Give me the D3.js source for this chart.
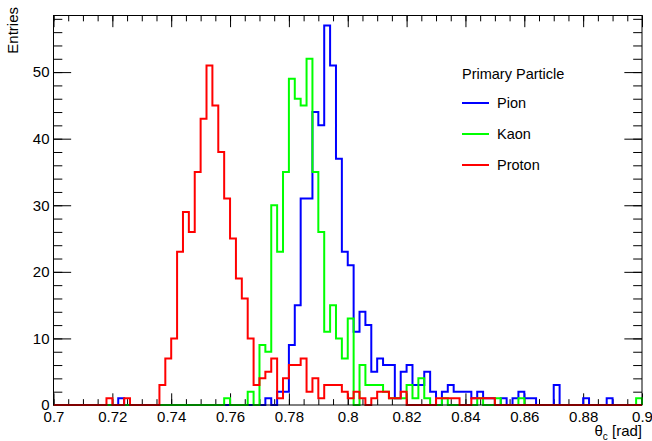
<!DOCTYPE html>
<html>
<head>
<meta charset="utf-8">
<script src="https://cdn.jsdelivr.net/npm/d3@7"></script>
<style>
  body { margin: 0; background: #fff; }
  text { font-family: "Liberation Sans", Arial, Helvetica, sans-serif; }
</style>
</head>
<body>
<div id="chart"></div>
<script>
const width = 652;
const height = 441;
const margin = { top: 15.5, right: 10, bottom: 36, left: 53.5 };

// histogram: 100 bins from 0.7 to 0.9 (bin width 0.002)
const xMin = 0.7;
const xMax = 0.9;
const nBins = 100;

const pion = [
  0, 0, 0, 0, 0, 0, 0, 0, 0, 0,
  0, 1, 0, 0, 0, 0, 0, 0, 0, 0,
  0, 0, 0, 0, 0, 0, 0, 0, 0, 0,
  0, 0, 0, 0, 0, 0, 1, 0, 2, 2,
  9, 15, 31, 31, 44, 42, 57, 51, 37, 23,
  21, 11, 14, 12, 5, 7, 6, 6, 1, 5,
  6, 3, 3, 5, 2, 0, 2, 3, 2, 2,
  2, 1, 2, 1, 1, 0, 1, 0, 1, 2,
  1, 1, 0, 0, 0, 3, 0, 0, 0, 0,
  1, 0, 0, 0, 1, 0, 0, 0, 0, 0
];

const kaon = [
  0, 0, 0, 0, 0, 0, 0, 0, 0, 0,
  0, 0, 0, 0, 0, 0, 0, 0, 0, 0,
  0, 0, 0, 0, 0, 0, 0, 0, 0, 1,
  0, 0, 0, 2, 0, 9, 8, 30, 23, 35,
  49, 46, 45, 52, 35, 26, 11, 15, 10, 7,
  13, 0, 6, 3, 3, 3, 2, 1, 1, 1,
  3, 1, 4, 1, 0, 0, 1, 0, 0, 0,
  0, 0, 1, 0, 0, 1, 0, 0, 0, 1,
  0, 0, 0, 0, 0, 0, 0, 0, 0, 0,
  0, 0, 0, 0, 0, 0, 0, 0, 0, 1
];

const proton = [
  0, 0, 0, 0, 0, 0, 0, 0, 0, 1,
  0, 0, 1, 0, 0, 0, 0, 0, 3, 7,
  10, 23, 29, 26, 35, 43, 51, 45, 38, 31,
  25, 19, 16, 10, 3, 4, 5, 7, 1, 4,
  6, 6, 7, 2, 4, 1, 3, 3, 3, 2,
  1, 2, 1, 0, 1, 2, 2, 1, 1, 2,
  0, 0, 0, 0, 0, 1, 1, 1, 1, 0,
  0, 1, 1, 1, 1, 0, 0, 0, 0, 0,
  0, 0, 0, 0, 0, 0, 0, 0, 0, 0,
  0, 0, 0, 0, 0, 0, 0, 0, 0, 0
];

const seriesNames = ["Pion", "Kaon", "Proton"];
const seriesColors = ["#0000ff", "#00ff00", "#ff0000"];
const seriesValues = [pion, kaon, proton];

const xTicks = [0.7, 0.72, 0.74, 0.76, 0.78, 0.8, 0.82, 0.84, 0.86, 0.88, 0.9];
const xTickLabels = ["0.7", "0.72", "0.74", "0.76", "0.78", "0.8", "0.82", "0.84", "0.86", "0.88", "0.9"];
const yTicks = [0, 10, 20, 30, 40, 50];
const yMax = 58.5;

const svg = d3.select('#chart')
  .append('svg')
  .attr('width', width)
  .attr('height', height)
  .attr('viewBox', [0, 0, width, height]);

svg.append('rect').attr('width', width).attr('height', height).attr('fill', '#fff');

const x = d3.scaleLinear()
  .domain([xMin, xMax])
  .range([margin.left, width - margin.right]);

const y = d3.scaleLinear()
  .domain([0, yMax])
  .range([height - margin.bottom, margin.top]);

const binW = (xMax - xMin) / nBins;
const xMinor = d3.range(0, 41).map(i => xMin + i * 0.005);
const yMinor = d3.range(0, 30).map(i => i * 2);

const plotW = width - margin.left - margin.right;
const plotH = height - margin.top - margin.bottom;
const xMajLen = plotH * 0.03;
const yMajLen = plotW * 0.03;

function styleAxis(g) {
  g.select('.domain').remove();
  g.selectAll('line').attr('stroke', '#000').attr('stroke-width', 1);
  g.selectAll('text').attr('font-size', '15px').attr('fill', '#000')
    .style('font-family', '"Liberation Sans", Arial, sans-serif');
}

// bottom axis
svg.append('g')
  .attr('transform', `translate(0, ${height - margin.bottom})`)
  .call(d3.axisBottom(x).tickValues(xMinor).tickSize(-xMajLen / 2).tickFormat(''))
  .call(styleAxis);
svg.append('g')
  .attr('transform', `translate(0, ${height - margin.bottom})`)
  .call(d3.axisBottom(x).tickValues(xTicks).tickSize(-xMajLen).tickPadding(6.5)
    .tickFormat((d, i) => xTickLabels[i]))
  .call(styleAxis);

// top mirrored ticks
svg.append('g')
  .attr('transform', `translate(0, ${margin.top})`)
  .call(d3.axisTop(x).tickValues(xMinor).tickSize(-xMajLen / 2).tickFormat(''))
  .call(styleAxis);
svg.append('g')
  .attr('transform', `translate(0, ${margin.top})`)
  .call(d3.axisTop(x).tickValues(xTicks).tickSize(-xMajLen).tickFormat(''))
  .call(styleAxis);

// left axis
svg.append('g')
  .attr('transform', `translate(${margin.left}, 0)`)
  .call(d3.axisLeft(y).tickValues(yMinor).tickSize(-yMajLen / 2).tickFormat(''))
  .call(styleAxis);
svg.append('g')
  .attr('transform', `translate(${margin.left}, 0)`)
  .call(d3.axisLeft(y).tickValues(yTicks).tickSize(-yMajLen).tickPadding(4))
  .call(styleAxis);

// right mirrored ticks
svg.append('g')
  .attr('transform', `translate(${width - margin.right}, 0)`)
  .call(d3.axisRight(y).tickValues(yMinor).tickSize(-yMajLen / 2).tickFormat(''))
  .call(styleAxis);
svg.append('g')
  .attr('transform', `translate(${width - margin.right}, 0)`)
  .call(d3.axisRight(y).tickValues(yTicks).tickSize(-yMajLen).tickFormat(''))
  .call(styleAxis);

// histograms
const line = d3.line()
  .x(d => x(d[0]))
  .y(d => y(d[1]))
  .curve(d3.curveStepAfter);

seriesValues.forEach((vals, k) => {
  const pts = [[xMin, 0]];
  vals.forEach((v, i) => pts.push([xMin + i * binW, v]));
  pts.push([xMax, vals[vals.length - 1]]);
  pts.push([xMax, 0]);
  svg.append('path')
    .datum(pts)
    .attr('fill', 'none')
    .attr('stroke', seriesColors[k])
    .attr('stroke-width', 2)
    .attr('d', line);
});

// frame
svg.append('rect')
  .attr('x', margin.left)
  .attr('y', margin.top)
  .attr('width', plotW)
  .attr('height', plotH)
  .attr('fill', 'none')
  .attr('stroke', '#000')
  .attr('stroke-width', 1);

// axis titles
svg.append('text')
  .attr('transform', `translate(18, 7) rotate(-90)`)
  .attr('text-anchor', 'end')
  .attr('font-size', '15px')
  .text('Entries');

const xt = svg.append('text')
  .attr('x', width - margin.right)
  .attr('y', 436)
  .attr('text-anchor', 'end')
  .attr('font-size', '15px');
xt.append('tspan').text('θ');
xt.append('tspan').attr('font-size', '10px').attr('dy', 4).text('c');
xt.append('tspan').attr('dy', -4).text(' [rad]');

// legend
const legend = svg.append('g').attr('transform', 'translate(462, 0)');
legend.append('text')
  .attr('x', 0)
  .attr('y', 79)
  .attr('font-size', '14.5px')
  .text('Primary Particle');

seriesNames.forEach((name, k) => {
  const ly = 103 + k * 31;
  legend.append('line')
    .attr('x1', 0).attr('x2', 27)
    .attr('y1', ly).attr('y2', ly)
    .attr('stroke', seriesColors[k])
    .attr('stroke-width', 2);
  legend.append('text')
    .attr('x', 35)
    .attr('y', ly + 5)
    .attr('font-size', '14.5px')
    .text(name);
});
</script>
</body>
</html>
